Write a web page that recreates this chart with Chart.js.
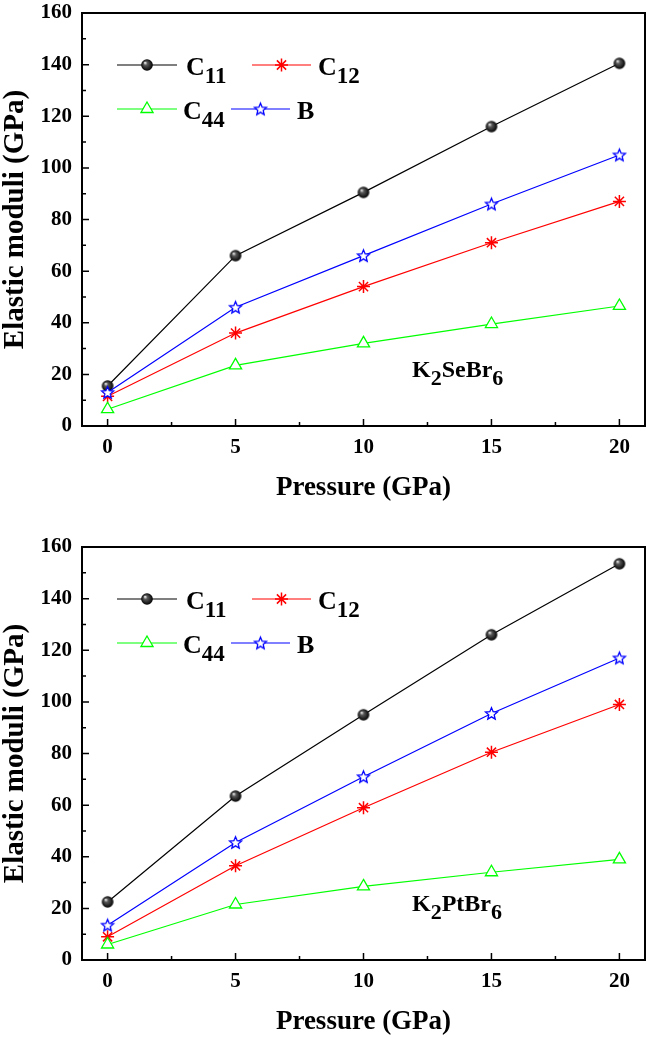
<!DOCTYPE html>
<html>
<head>
<meta charset="utf-8">
<script src="https://cdn.jsdelivr.net/npm/chart.js@4.4.0/dist/chart.umd.min.js"></script>
<style>
  html, body { margin: 0; padding: 0; background: #fff; }
  body { width: 646px; height: 1038px; position: relative; overflow: hidden; }
  .panel { position: absolute; left: 0; width: 646px; height: 504px; }
  #panelTop { top: 0; }
  #panelBottom { top: 534px; }
</style>
</head>
<body>
<div class="panel" id="panelTop"><canvas id="chartTop" width="646" height="504"></canvas></div>
<div class="panel" id="panelBottom"><canvas id="chartBottom" width="646" height="504"></canvas></div>
<script>
// Elastic constants of K2SeBr6 and K2PtBr6 vs pressure
const pressure = [0, 5, 10, 15, 20];
const pressureMinor = [2.5, 7.5, 12.5, 17.5];
const moduliTicks = [0, 20, 40, 60, 80, 100, 120, 140, 160];
const moduliMinor = [10, 30, 50, 70, 90, 110, 130, 150];

const seriesNames = ['C11', 'C12', 'C44', 'B'];
const compounds = ['K2SeBr6', 'K2PtBr6'];

const seC11 = [15.5, 66, 90.5, 116, 140.5];
const seC12 = [11.5, 36, 54, 71, 87];
const seC44 = [6.5, 23.5, 32, 39.5, 46.5];
const seB   = [13, 46, 66, 86, 105];

const ptC11 = [22.5, 63.5, 95, 126, 153.5];
const ptC12 = [9, 36.5, 59, 80.5, 99];
const ptC44 = [6, 21.5, 28.5, 34, 39];
const ptB   = [13.5, 45.5, 71, 95.5, 117];

const FONT = "'Liberation Serif', 'Times New Roman', serif";

// marker images: shaded ball and open five-point star
function makeSphere(r) {
  const s = Math.ceil(r * 2 + 2);
  const c = document.createElement('canvas');
  c.width = c.height = s;
  const g = c.getContext('2d');
  const m = s / 2;
  const grad = g.createRadialGradient(m - r * 0.35, m - r * 0.4, r * 0.05, m, m, r);
  grad.addColorStop(0, '#f0f0f0');
  grad.addColorStop(0.3, '#5a5a5a');
  grad.addColorStop(1, '#000');
  g.fillStyle = grad;
  g.beginPath();
  g.arc(m, m, r, 0, Math.PI * 2);
  g.fill();
  return c;
}

function makeStar(r, color) {
  const s = Math.ceil(r * 2 + 4);
  const c = document.createElement('canvas');
  c.width = c.height = s;
  const g = c.getContext('2d');
  const m = s / 2;
  g.beginPath();
  for (let i = 0; i < 10; i++) {
    const rad = i % 2 === 0 ? r : r * 0.45;
    const a = -Math.PI / 2 + i * Math.PI / 5;
    const px = m + rad * Math.cos(a);
    const py = m + 0.5 + rad * Math.sin(a);
    i === 0 ? g.moveTo(px, py) : g.lineTo(px, py);
  }
  g.closePath();
  g.fillStyle = '#fff';
  g.fill();
  g.strokeStyle = color;
  g.lineWidth = 1.3;
  g.stroke();
  return c;
}

const sphereImg = makeSphere(5.8);
const starImg = makeStar(6.3, '#0000ff');

// text with digits dropped as subscripts (C11, K2SeBr6)
function drawRich(ctx, text, x, y, size, subSize, drop) {
  const parts = text.match(/[0-9]+|[^0-9]+/g);
  ctx.save();
  ctx.fillStyle = '#000';
  ctx.textBaseline = 'alphabetic';
  ctx.textAlign = 'left';
  parts.forEach(p => {
    const isSub = /^[0-9]+$/.test(p);
    ctx.font = 'bold ' + (isSub ? subSize : size) + 'px ' + FONT;
    ctx.fillText(p, x, isSub ? y + drop : y);
    x += ctx.measureText(p).width;
  });
  ctx.restore();
}

// inward tick marks and box frame
const framePlugin = {
  id: 'frame',
  afterDraw(chart) {
    const { ctx, chartArea: a, scales: { x, y } } = chart;
    ctx.save();
    ctx.strokeStyle = '#000';
    ctx.lineWidth = 1.5;
    ctx.beginPath();
    pressure.forEach(v => { const px = x.getPixelForValue(v); ctx.moveTo(px, a.bottom); ctx.lineTo(px, a.bottom - 7); });
    pressureMinor.forEach(v => { const px = x.getPixelForValue(v); ctx.moveTo(px, a.bottom); ctx.lineTo(px, a.bottom - 4); });
    moduliTicks.forEach(v => { const py = y.getPixelForValue(v); ctx.moveTo(a.left, py); ctx.lineTo(a.left + 7, py); });
    moduliMinor.forEach(v => { const py = y.getPixelForValue(v); ctx.moveTo(a.left, py); ctx.lineTo(a.left + 4, py); });
    ctx.stroke();
    ctx.lineWidth = 2;
    ctx.strokeRect(a.left, a.top, a.right - a.left, a.bottom - a.top);
    ctx.restore();
  }
};

// two-row legend inside the plot plus compound label
const legendSlots = [
  { dx: 35, dy: 52, len: 60, tx: 104 },
  { dx: 170, dy: 52, len: 59, tx: 236 },
  { dx: 35, dy: 96, len: 60, tx: 101 },
  { dx: 149, dy: 96, len: 59, tx: 215 }
];

const insetPlugin = {
  id: 'inset',
  afterDatasetsDraw(chart, args, opts) {
    const { ctx, chartArea: a } = chart;
    chart.data.datasets.forEach((ds, i) => {
      const s = legendSlots[i];
      const x0 = a.left + s.dx, yy = a.top + s.dy, xm = x0 + s.len / 2;
      ctx.save();
      ctx.strokeStyle = ds.borderColor;
      ctx.lineWidth = ds.borderWidth;
      ctx.beginPath();
      ctx.moveTo(x0, yy);
      ctx.lineTo(x0 + s.len, yy);
      ctx.stroke();
      const st = ds.pointStyle;
      if (typeof st !== 'string') {
        ctx.drawImage(st, xm - st.width / 2, yy - st.height / 2);
      } else if (st === 'triangle') {
        const r = ds.pointRadius;
        ctx.beginPath();
        for (let k = 0; k < 3; k++) {
          const ang = -Math.PI / 2 + k * 2 * Math.PI / 3;
          const px = xm + r * Math.cos(ang), py = yy + r * Math.sin(ang);
          k === 0 ? ctx.moveTo(px, py) : ctx.lineTo(px, py);
        }
        ctx.closePath();
        ctx.fillStyle = '#fff';
        ctx.fill();
        ctx.strokeStyle = ds.pointBorderColor;
        ctx.lineWidth = ds.pointBorderWidth;
        ctx.stroke();
      } else if (st === 'star') {
        const r = ds.pointRadius;
        ctx.strokeStyle = ds.pointBorderColor;
        ctx.lineWidth = ds.pointBorderWidth;
        ctx.beginPath();
        for (let k = 0; k < 4; k++) {
          const ang = k * Math.PI / 4;
          ctx.moveTo(xm - r * Math.cos(ang), yy - r * Math.sin(ang));
          ctx.lineTo(xm + r * Math.cos(ang), yy + r * Math.sin(ang));
        }
        ctx.stroke();
      }
      ctx.restore();
      drawRich(ctx, ds.label, a.left + s.tx, yy + 10, 26, 23, 8);
    });
    drawRich(ctx, opts.compound, a.left + 330, a.top + 364, 24, 22, 8);
  }
};

function toPoints(vals) {
  return pressure.map((p, i) => ({ x: p, y: vals[i] }));
}

function buildDatasets(c11, c12, c44, b) {
  return [
    { label: seriesNames[0], data: toPoints(c11), borderColor: '#000000', borderWidth: 1.2,
      pointStyle: sphereImg, order: 4 },
    { label: seriesNames[1], data: toPoints(c12), borderColor: '#ff0000', borderWidth: 1.2,
      pointStyle: 'star', pointRadius: 6.5, pointBorderColor: '#ff0000', pointBorderWidth: 1.5, order: 3 },
    { label: seriesNames[2], data: toPoints(c44), borderColor: '#00ff00', borderWidth: 1.2,
      pointStyle: 'triangle', pointRadius: 7, pointBackgroundColor: '#ffffff',
      pointBorderColor: '#00ff00', pointBorderWidth: 1.3, order: 2 },
    { label: seriesNames[3], data: toPoints(b), borderColor: '#0000ff', borderWidth: 1.2,
      pointStyle: starImg, order: 1 }
  ];
}

function makeChart(id, datasets, compound) {
  return new Chart(document.getElementById(id), {
    type: 'line',
    data: { datasets: datasets },
    options: {
      responsive: false,
      animation: false,
      devicePixelRatio: 1,
      layout: { autoPadding: false, padding: { top: 13, right: 1, left: 0, bottom: 0 } },
      elements: { line: { tension: 0, fill: false } },
      scales: {
        x: {
          type: 'linear', min: -1, max: 21,
          afterBuildTicks: s => { s.ticks = pressure.map(v => ({ value: v })); },
          afterFit: s => { s.height = 78; s.paddingLeft = 0; s.paddingRight = 0; },
          grid: { display: false, drawTicks: false },
          border: { display: false },
          ticks: { color: '#000', padding: 9, font: { family: FONT, size: 21, weight: 'bold' } },
          title: { display: true, text: 'Pressure (GPa)', color: '#000', padding: { top: 0, bottom: 0 },
                   font: { family: FONT, size: 27, weight: 'bold', lineHeight: 1.2 } }
        },
        y: {
          type: 'linear', min: 0, max: 160,
          afterBuildTicks: s => { s.ticks = moduliTicks.map(v => ({ value: v })); },
          afterFit: s => { s.width = 82; s.paddingTop = 0; s.paddingBottom = 0; },
          grid: { display: false, drawTicks: false },
          border: { display: false },
          ticks: { color: '#000', padding: 10, font: { family: FONT, size: 21, weight: 'bold' } },
          title: { display: true, text: 'Elastic moduli (GPa)', color: '#000', padding: { top: 1, bottom: 0 },
                   font: { family: FONT, size: 29, weight: 'bold', lineHeight: 1 } }
        }
      },
      plugins: {
        legend: { display: false },
        tooltip: { enabled: false },
        inset: { compound: compound }
      }
    },
    plugins: [framePlugin, insetPlugin]
  });
}

makeChart('chartTop', buildDatasets(seC11, seC12, seC44, seB), compounds[0]);
makeChart('chartBottom', buildDatasets(ptC11, ptC12, ptC44, ptB), compounds[1]);
</script>
</body>
</html>
